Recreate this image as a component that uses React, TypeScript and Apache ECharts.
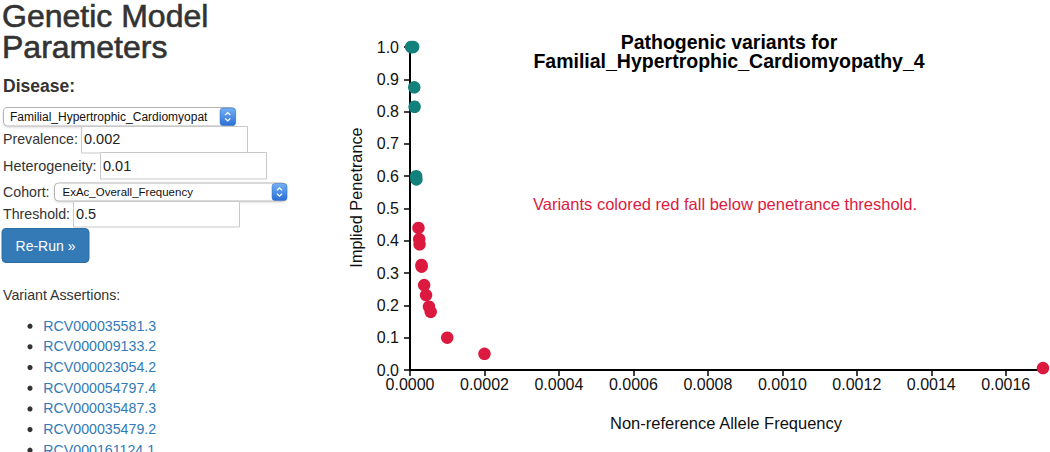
import React, { useEffect, useRef } from "react";
import * as echarts from "echarts";

// ---- data ----
const tealFreq = [0.000003, 0.0000085, 0.0000114, 0.0000123, 0.0000165, 0.0000172];
const tealPen = [1.0, 1.0, 0.875, 0.815, 0.6, 0.59];
const redFreq = [0.0000227, 0.0000247, 0.0000257, 0.0000308, 0.0000313, 0.000038, 0.0000431, 0.000051, 0.0000556, 0.0001, 0.0002, 0.0017];
const redPen = [0.44, 0.405, 0.389, 0.325, 0.32, 0.263, 0.232, 0.196, 0.18, 0.1, 0.05, 0.006];

const xMin = 0;
const xMax = 0.0017;
const xStep = 0.0002;
const yMin = 0;
const yMax = 1;
const yStep = 0.1;

const titleLines = ["Pathogenic variants for", "Familial_Hypertrophic_Cardiomyopathy_4"];
const xAxisTitle = "Non-reference Allele Frequency";
const yAxisTitle = "Implied Penetrance";
const noteText = "Variants colored red fall below penetrance threshold.";

const panelHeading = ["Genetic Model", "Parameters"];
const diseaseLabel = "Disease:";
const diseaseValue = "Familial_Hypertrophic_Cardiomyopat";
const fieldLabels = ["Prevalence:", "Heterogeneity:", "Cohort:", "Threshold:"];
const fieldValues = ["0.002", "0.01", "ExAc_Overall_Frequency", "0.5"];
const buttonLabel = "Re-Run \u00bb";
const assertionsLabel = "Variant Assertions:";
const variantIds = [
  "RCV000035581.3",
  "RCV000009133.2",
  "RCV000023054.2",
  "RCV000054797.4",
  "RCV000035487.3",
  "RCV000035479.2",
  "RCV000161124.1",
];

const FONT = "'Liberation Sans', Arial, Helvetica, sans-serif";
const TEAL = "#12807b";
const CRIMSON = "#dc1a40";
const LINK = "#337ab7";
const TEXT = "#333333";

function txt(x: number, y: number, text: string, size: number, color: string, extra: any = {}) {
  const align = extra.align || "left";
  const style: any = {
    text,
    fill: color,
    fontSize: size,
    fontFamily: FONT,
    fontWeight: extra.weight || "normal",
    align,
    textAlign: align,
    verticalAlign: "middle",
    textVerticalAlign: "middle",
  };
  if (extra.lineHeight) style.lineHeight = extra.lineHeight;
  if (extra.stroke) {
    style.stroke = extra.stroke;
    style.lineWidth = extra.strokeWidth || 0.5;
  }
  return {
    type: "text",
    x,
    y,
    rotation: extra.rotation || 0,
    z: 20,
    silent: true,
    style,
  };
}

function stepper(x: number, y: number, w: number, h: number) {
  const cx = x + w / 2;
  const cy = y + h / 2;
  return [
    {
      type: "rect",
      z: 15,
      shape: { x, y, width: w, height: h, r: 3 },
      style: {
        fill: new echarts.graphic.LinearGradient(0, 0, 0, 1, [
          { offset: 0, color: "#74b0f2" },
          { offset: 1, color: "#2b6fd6" },
        ]),
        stroke: "#2f6cc4",
        lineWidth: 0.5,
      },
    },
    {
      type: "polyline",
      z: 16,
      shape: { points: [[cx - 2.6, cy - 1.6], [cx, cy - 4.2], [cx + 2.6, cy - 1.6]] },
      style: { stroke: "#ffffff", lineWidth: 1.3, fill: "none" },
    },
    {
      type: "polyline",
      z: 16,
      shape: { points: [[cx - 2.6, cy + 1.6], [cx, cy + 4.2], [cx + 2.6, cy + 1.6]] },
      style: { stroke: "#ffffff", lineWidth: 1.3, fill: "none" },
    },
  ];
}

function selectBox(x: number, y: number, w: number, h: number) {
  return {
    type: "rect",
    z: 12,
    shape: { x, y, width: w, height: h, r: 4 },
    style: { fill: "#ffffff", stroke: "#b5b5b5", lineWidth: 1, shadowBlur: 2, shadowColor: "rgba(0,0,0,0.15)", shadowOffsetY: 1 },
  };
}

function inputBox(x: number, y: number, w: number, h: number) {
  return {
    type: "rect",
    z: 12,
    shape: { x, y, width: w, height: h },
    style: { fill: "#ffffff", stroke: "#c9c9c9", lineWidth: 1 },
  };
}

function buildPanel(): any[] {
  const els: any[] = [];
  els.push(txt(2, 31, panelHeading.join("\n"), 32, TEXT, { lineHeight: 31, stroke: TEXT, strokeWidth: 0.6 }));
  els.push(txt(3, 85.7, diseaseLabel, 17.5, TEXT, { weight: "bold" }));

  // disease select
  els.push(selectBox(3.5, 107.5, 232, 18.5));
  els.push(txt(10, 116.7, diseaseValue, 12, "#111111"));
  els.push(...stepper(220, 108, 15.5, 17.5));

  // prevalence
  els.push(txt(3, 139, fieldLabels[0], 14.2, TEXT));
  els.push(inputBox(81.5, 126.5, 166, 26.5));
  els.push(txt(84, 139, fieldValues[0], 14.5, "#222222"));

  // heterogeneity
  els.push(txt(3, 166, fieldLabels[1], 14.4, TEXT));
  els.push(inputBox(100.5, 152.5, 166, 26.5));
  els.push(txt(103, 166, fieldValues[1], 14.5, "#222222"));

  // cohort
  els.push(txt(3, 191.7, fieldLabels[2], 14.2, TEXT));
  els.push(selectBox(54.5, 183, 232, 18));
  els.push(txt(62.5, 192, fieldValues[2], 11.5, "#111111"));
  els.push(...stepper(272, 183.5, 15, 17));

  // threshold
  els.push(txt(3, 213.5, fieldLabels[3], 14.2, TEXT));
  els.push(inputBox(73.5, 201.5, 166, 25.5));
  els.push(txt(76, 214, fieldValues[3], 14.5, "#222222"));

  // button
  els.push({
    type: "rect",
    z: 12,
    shape: { x: 2, y: 228.5, width: 87, height: 34, r: 4 },
    style: { fill: "#337ab7", stroke: "#2e6da4", lineWidth: 1 },
  });
  els.push(txt(45.5, 246, buttonLabel, 14, "#ffffff", { align: "center" }));

  // assertions list
  els.push(txt(3, 294.7, assertionsLabel, 14.2, TEXT));
  variantIds.forEach((id, i) => {
    const cy = 325.7 + i * 20.67;
    els.push({ type: "circle", z: 12, shape: { cx: 30, cy: cy + 0.5, r: 2.6 }, style: { fill: TEXT } });
    els.push(txt(43.3, cy, id, 14.2, LINK));
  });
  return els;
}

export default function App() {
  const ref = useRef<HTMLDivElement>(null);

  useEffect(() => {
    if (!ref.current) return;
    const chart = echarts.init(ref.current, null, { renderer: "svg" });

    const tealData = tealFreq.map((f, i) => [f, tealPen[i]]);
    const redData = redFreq.map((f, i) => [f, redPen[i]]);

    const chartTexts: any[] = [
      txt(729, 51.1, titleLines.join("\n"), 19.5, "#000000", { align: "center", weight: "bold", lineHeight: 18.8 }),
      txt(725, 204, noteText, 16.5, CRIMSON, { align: "center" }),
      txt(726, 422.8, xAxisTitle, 16.5, "#111111", { align: "center" }),
      txt(356, 197.5, yAxisTitle, 16.3, "#111111", { align: "center", rotation: Math.PI / 2 }),
    ];

    chart.setOption({
      animation: false,
      backgroundColor: "#ffffff",
      textStyle: { fontFamily: FONT },
      grid: { left: 410, right: 7, top: 47, bottom: 82, containLabel: false },
      xAxis: {
        type: "value",
        min: xMin,
        max: xMax,
        interval: xStep,
        splitLine: { show: false },
        axisLine: { show: true, onZero: false, lineStyle: { color: "#000000", width: 2 } },
        axisTick: { show: true, length: 6, lineStyle: { color: "#000000", width: 1.5 } },
        axisLabel: {
          show: true,
          margin: 6,
          showMaxLabel: false,
          color: "#111111",
          fontSize: 16,
          fontFamily: FONT,
          formatter: (v: number) => (v > 0.00165 ? "" : v.toFixed(4)),
        },
      },
      yAxis: {
        type: "value",
        min: yMin,
        max: yMax,
        interval: yStep,
        splitLine: { show: false },
        axisLine: { show: true, onZero: false, lineStyle: { color: "#000000", width: 2 } },
        axisTick: { show: true, length: 6, lineStyle: { color: "#000000", width: 1.5 } },
        axisLabel: {
          show: true,
          margin: 11,
          color: "#111111",
          fontSize: 16,
          fontFamily: FONT,
          formatter: (v: number) => v.toFixed(1),
        },
      },
      graphic: { elements: [...buildPanel(), ...chartTexts] },
      series: [
        {
          name: "Above threshold",
          type: "scatter",
          data: tealData,
          symbol: "circle",
          symbolSize: 12.5,
          clip: false,
          itemStyle: { color: TEAL, opacity: 1 },
          z: 5,
        },
        {
          name: "Below threshold",
          type: "scatter",
          data: redData,
          symbol: "circle",
          symbolSize: 12.5,
          clip: false,
          itemStyle: { color: CRIMSON, opacity: 1 },
          z: 5,
        },
      ],
    });

    return () => chart.dispose();
  }, []);

  return (
    <div
      ref={ref}
      style={{ position: "fixed", left: 0, top: 0, width: 1050, height: 452, background: "#ffffff" }}
    />
  );
}
